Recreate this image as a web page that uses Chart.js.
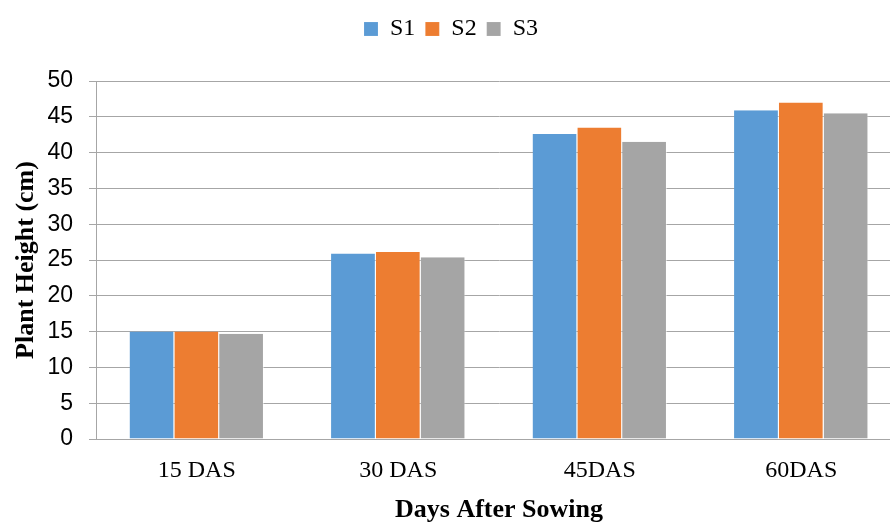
<!DOCTYPE html>
<html><head><meta charset="utf-8">
<script src="https://cdn.jsdelivr.net/npm/chart.js@4.4.0/dist/chart.umd.min.js"></script>
<style>
html,body{margin:0;padding:0;background:#fff;overflow:hidden;}
#wrap{position:relative;width:902px;height:523px;}
</style></head>
<body><div id="wrap"><canvas id="c"></canvas></div>
<script>
const categories = ["15 DAS", "30 DAS", "45DAS", "60DAS"];
const seriesNames = ["S1", "S2", "S3"];
const s1 = [15.0, 25.9, 42.6, 45.9];
const s2 = [15.0, 26.1, 43.5, 47.0];
const s3 = [14.7, 25.4, 41.5, 45.5];
const colors = ["#5B9BD5", "#ED7D31", "#A5A5A5"];
const yTicks = [0,5,10,15,20,25,30,35,40,45,50];

const gridColor = "#a6a6a6";
const PLOT_TOP = 81;
const TOP_PAD = 7;
new Chart(document.getElementById("c"), {
  type: "bar",
  data: {
    labels: categories,
    datasets: [s1, s2, s3].map((d, i) => ({
      label: seriesNames[i], data: d, backgroundColor: colors[i],
      borderColor: "rgba(255,255,255,0.5)", borderWidth: {right:1},
      categoryPercentage: 0.667, barPercentage: 1.0
    }))
  },
  options: {
    responsive: true, maintainAspectRatio: false, animation: false,
    layout: { padding: { left: 0, right: 0, top: TOP_PAD, bottom: 0 } },
    plugins: {
      tooltip: { enabled: false },
      legend: {
        position: "top",
        labels: { boxWidth: 14, boxHeight: 14, padding: 10, color: "#000",
          font: { family: "'Liberation Serif', serif", size: 24 } }
      }
    },
    scales: {
      x: {
        grid: { display: false, drawTicks: false },
        border: { display: true, color: gridColor, width: 1 },
        ticks: { color: "#000", padding: 17, font: { family: "'Liberation Serif', serif", size: 24 } },
        title: { display: true, text: "Days After Sowing", color: "#000", padding: { top: 0, bottom: 0 },
          font: { family: "'Liberation Serif', serif", size: 26, weight: "bold", lineHeight: 1.0 } },
        afterFit: s => { s.height = 84; }
      },
      y: {
        min: 0, max: 50,
        afterBuildTicks: s => { s.ticks = yTicks.map(v => ({ value: v })); },
        grid: { color: gridColor, lineWidth: 1, tickLength: 7, drawTicks: true, tickColor: gridColor },
        border: { display: true, color: gridColor, width: 1 },
        ticks: { color: "#000", padding: 16, font: { family: "'Liberation Sans', sans-serif", size: 23 } },
        title: { display: true, text: "Plant Height (cm)", color: "#000", padding: { top: 11, bottom: 4 },
          font: { family: "'Liberation Serif', serif", size: 26, weight: "bold" } },
        afterFit: s => { s.width = 96; }
      }
    }
  },
  plugins: [{
    id: "legendFit",
    beforeInit(chart) {
      const lg = chart.legend;
      const fit = lg.fit;
      lg.fit = function () { fit.call(this); this.height = PLOT_TOP - TOP_PAD; };
    }
  }]
});
</script></body></html>
